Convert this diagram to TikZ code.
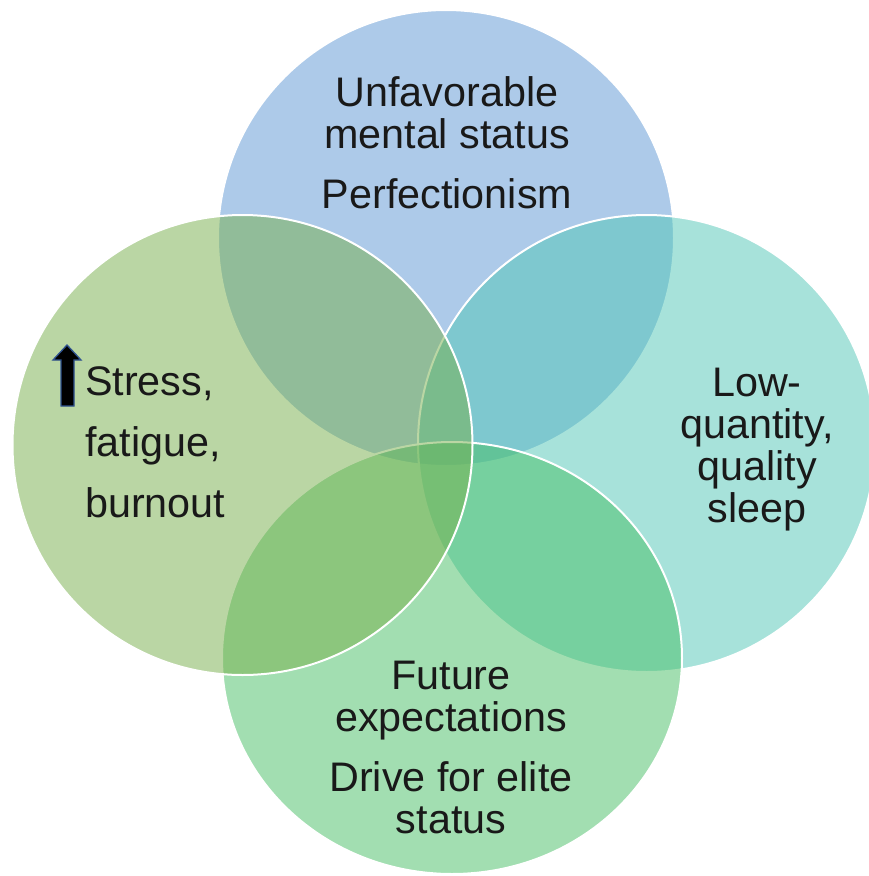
\documentclass[tikz,border=0pt]{standalone}
\usepackage{fontspec}
\setmainfont{Liberation Sans}
\definecolor{cTop}{RGB}{93,151,213}
\definecolor{cLeft}{RGB}{119,175,75}
\definecolor{cRight}{RGB}{81,199,183}
\definecolor{cBottom}{RGB}{71,191,101}
\definecolor{arrowedge}{RGB}{47,82,143}
\begin{document}
\begin{tikzpicture}[x=1pt,y=-1pt,
  bubble/.style={draw=white,line width=2pt,fill opacity=0.5,draw opacity=1},
  label/.style={anchor=base,align=center,inner sep=0pt,text=black!90,
    font=\fontsize{41.3}{41.7}\selectfont},
  labelL/.style={label,align=left,anchor=base west}]
\useasboundingbox (0,0) rectangle (868,876);
\fill[white] (0,0) rectangle (868,876);
% circles (drawing order: top, right, bottom, left)
\path[bubble,fill=cTop] (446,238) circle[radius=228];
\path[bubble,fill=cRight] (646.5,443.5) circle[radius=228.5];
\path[bubble,fill=cBottom] (452,658) ellipse[x radius=230,y radius=216];
\path[bubble,fill=cLeft] (242.5,445) circle[radius=230];
% texts (anchored at the baseline of their last line)
\node[label] (top) at (447,208) {Unfavorable\\mental status\\[18pt]Perfectionism};
\node[label] (right) at (757,522) {Low-\\quantity,\\quality\\sleep};
\node[label] (bottom) at (451,833) {Future\\expectations\\[18pt]Drive for elite\\status};
\node[labelL] (left) at (85,517) {Stress,\\[19pt]fatigue,\\[19pt]burnout};
% up arrow
\filldraw[fill=black,draw=arrowedge,line width=1.3pt,line join=miter]
  (61,406) -- (61,360) -- (53,360) -- (67,345) -- (81,360) -- (74,360) -- (74,406) -- cycle;
\end{tikzpicture}
\end{document}
